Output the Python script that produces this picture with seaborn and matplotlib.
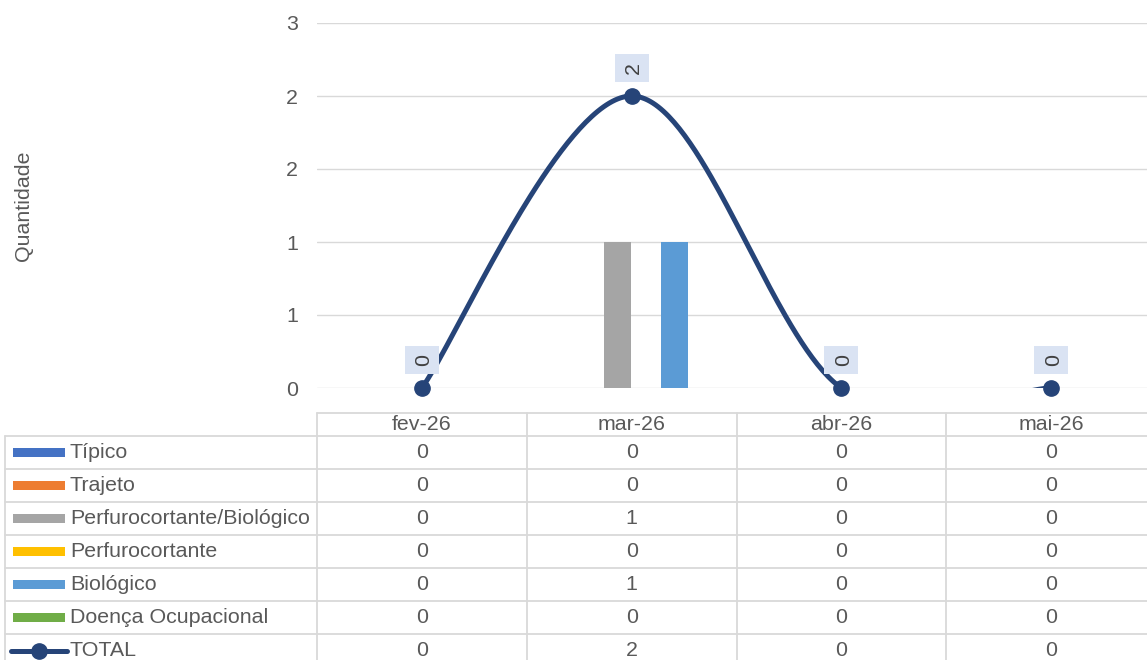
import numpy as np
import pandas as pd
import matplotlib.pyplot as plt
import matplotlib.transforms as mtransforms
import seaborn as sns
from matplotlib.patches import Rectangle

# data
months = ["fev-26", "mar-26", "abr-26", "mai-26"]
series_names = ["Típico", "Trajeto", "Perfurocortante/Biológico",
                "Perfurocortante", "Biológico", "Doença Ocupacional"]
tipico = [0, 0, 0, 0]
trajeto = [0, 0, 0, 0]
perfuro_bio = [0, 1, 0, 0]
perfuro = [0, 0, 0, 0]
biologico = [0, 1, 0, 0]
doenca = [0, 0, 0, 0]
total = [0, 2, 0, 0]
y_ticks = [0, 0.5, 1, 1.5, 2, 2.5]
y_tick_labels = ["0", "1", "1", "2", "2", "3"]

colors = ["#4472C4", "#ED7D31", "#A5A5A5", "#FFC000", "#5B9BD5", "#70AD47"]
line_color = "#264478"
text_color = "#595959"
grid_color = "#D9D9D9"
FS = 15.4

sns.set_theme(style="white")
plt.rcParams['font.family'] = ['Liberation Sans', 'DejaVu Sans']

values = [tipico, trajeto, perfuro_bio, perfuro, biologico, doenca]
df = pd.DataFrame([(m, s, v[i]) for s, v in zip(series_names, values) for i, m in enumerate(months)],
                  columns=['Mes', 'Tipo', 'Quantidade'])


def smooth_curve(xs, ys, n=80):
    # Excel-like smoothed line (cubic bezier through the points)
    pts = np.column_stack([xs, ys]).astype(float)
    out = []
    for i in range(len(pts) - 1):
        p0, p3 = pts[i], pts[i + 1]
        pm = pts[i - 1] if i > 0 else pts[i]
        pp = pts[i + 2] if i + 2 < len(pts) else pts[i + 1]
        c1 = p0 + (p3 - pm) / 6
        c2 = p3 - (pp - p0) / 6
        t = np.linspace(0, 1, n)[:, None]
        seg = (1 - t) ** 3 * p0 + 3 * (1 - t) ** 2 * t * c1 + 3 * (1 - t) * t ** 2 * c2 + t ** 3 * p3
        out.append(seg if i == 0 else seg[1:])
    return np.vstack(out)


W, H = 1147, 660
fig = plt.figure(figsize=(W / 100, H / 100), dpi=100)

# plot area in pixels: x 317..1156, y 23..388
px_left, px_right, px_top, px_bottom = 317, 1156, 23, 388
ax = fig.add_axes([px_left / W, 1 - px_bottom / H, (px_right - px_left) / W, (px_bottom - px_top) / H])

sns.barplot(data=df, x='Mes', y='Quantidade', hue='Tipo', order=months, hue_order=series_names,
            palette=colors, saturation=1, width=0.815, gap=0.07, linewidth=0, ax=ax,
            legend=False, zorder=2)

curve = smooth_curve(np.arange(len(months)), total)
sns.lineplot(x=curve[:, 0], y=curve[:, 1], sort=False, estimator=None, color=line_color,
             linewidth=3.6, ax=ax, zorder=3)
ax.plot(np.arange(len(months)), total, 'o', color=line_color, markersize=11, clip_on=False, zorder=4)

# data labels: light box 28 px above each point, text rotated
box_off = mtransforms.ScaledTranslation(0, 0.28, fig.dpi_scale_trans)
text_off = mtransforms.ScaledTranslation(0.02, 0.28, fig.dpi_scale_trans)
box_marker = [(-33, -27), (33, -27), (33, 27), (-33, 27), (-33, -27)]
ax.plot(np.arange(len(months)), total, linestyle='none', marker=box_marker, markersize=23.8,
        color='#DAE3F3', markeredgewidth=0, transform=ax.transData + box_off, clip_on=False, zorder=5)
for i, v in enumerate(total):
    ax.text(i, v, str(v), ha='center', va='center', rotation=90,
            fontsize=FS, color="#404040", transform=ax.transData + text_off, zorder=6)

ax.set_xlim(-0.5, len(months) - 0.5)
ax.set_ylim(0, 2.5)
ax.set_yticks(y_ticks)
ax.set_yticklabels(y_tick_labels)
ax.set_xticks([])
ax.set_xlabel('')
ax.set_ylabel('Quantidade', fontsize=FS, color=text_color)
ax.yaxis.set_label_coords((33 - px_left) / (px_right - px_left), 0.5)
ax.tick_params(axis='y', length=0, pad=13.7, labelsize=FS, labelcolor=text_color)
ax.grid(axis='y', color=grid_color, linewidth=1.0, zorder=0)
ax.set_axisbelow(True)
for sp in ax.spines.values():
    sp.set_visible(False)

# data table below the chart
col_w = (px_right - px_left) / len(months)
left_x = -0.5 - (px_left - 5) / col_w
head_h = 23 / 33
n_rows = len(series_names) + 1
tax = fig.add_axes([5 / W, 1 - (413 + head_h * 33 + n_rows * 33) / H,
                    (px_right - 5) / W, (head_h * 33 + n_rows * 33) / H])
tax.set_xlim(left_x, len(months) - 0.5)
tax.set_ylim(n_rows, -head_h)
tax.axis('off')

lw = 1.3
for k in range(len(months) + 1):
    tax.plot([k - 0.5, k - 0.5], [-head_h, n_rows], color=grid_color, lw=lw, clip_on=False)
tax.plot([left_x, left_x], [0, n_rows], color=grid_color, lw=lw, clip_on=False)
tax.plot([-0.5, len(months) - 0.5], [-head_h, -head_h], color=grid_color, lw=lw, clip_on=False)
for r in range(n_rows + 1):
    tax.plot([left_x, len(months) - 0.5], [r, r], color=grid_color, lw=lw, clip_on=False)

for i, m in enumerate(months):
    tax.text(i, -head_h / 2, m, ha='center', va='center', fontsize=FS, color=text_color)

row_names = series_names + ["TOTAL"]
row_values = values + [total]
key_x0 = left_x + 8 / col_w
key_x1 = left_x + 60 / col_w
label_x = left_x + 65 / col_w
for r, (name, vals) in enumerate(zip(row_names, row_values)):
    yc = r + 0.5
    if r < len(series_names):
        tax.add_patch(Rectangle((key_x0, yc - 0.15), key_x1 - key_x0, 0.3, color=colors[r], lw=0))
    else:
        tax.plot([left_x + 6 / col_w, left_x + 62 / col_w], [yc, yc], color=line_color, lw=3.6,
                 clip_on=False)
        tax.plot([left_x + 34 / col_w], [yc], 'o', color=line_color, markersize=11, clip_on=False)
    tax.text(label_x, yc, name, ha='left', va='center', fontsize=FS, color=text_color)
    for i, v in enumerate(vals):
        tax.text(i, yc, str(v), ha='center', va='center', fontsize=FS, color=text_color)

fig.savefig('out.png', dpi=100)
